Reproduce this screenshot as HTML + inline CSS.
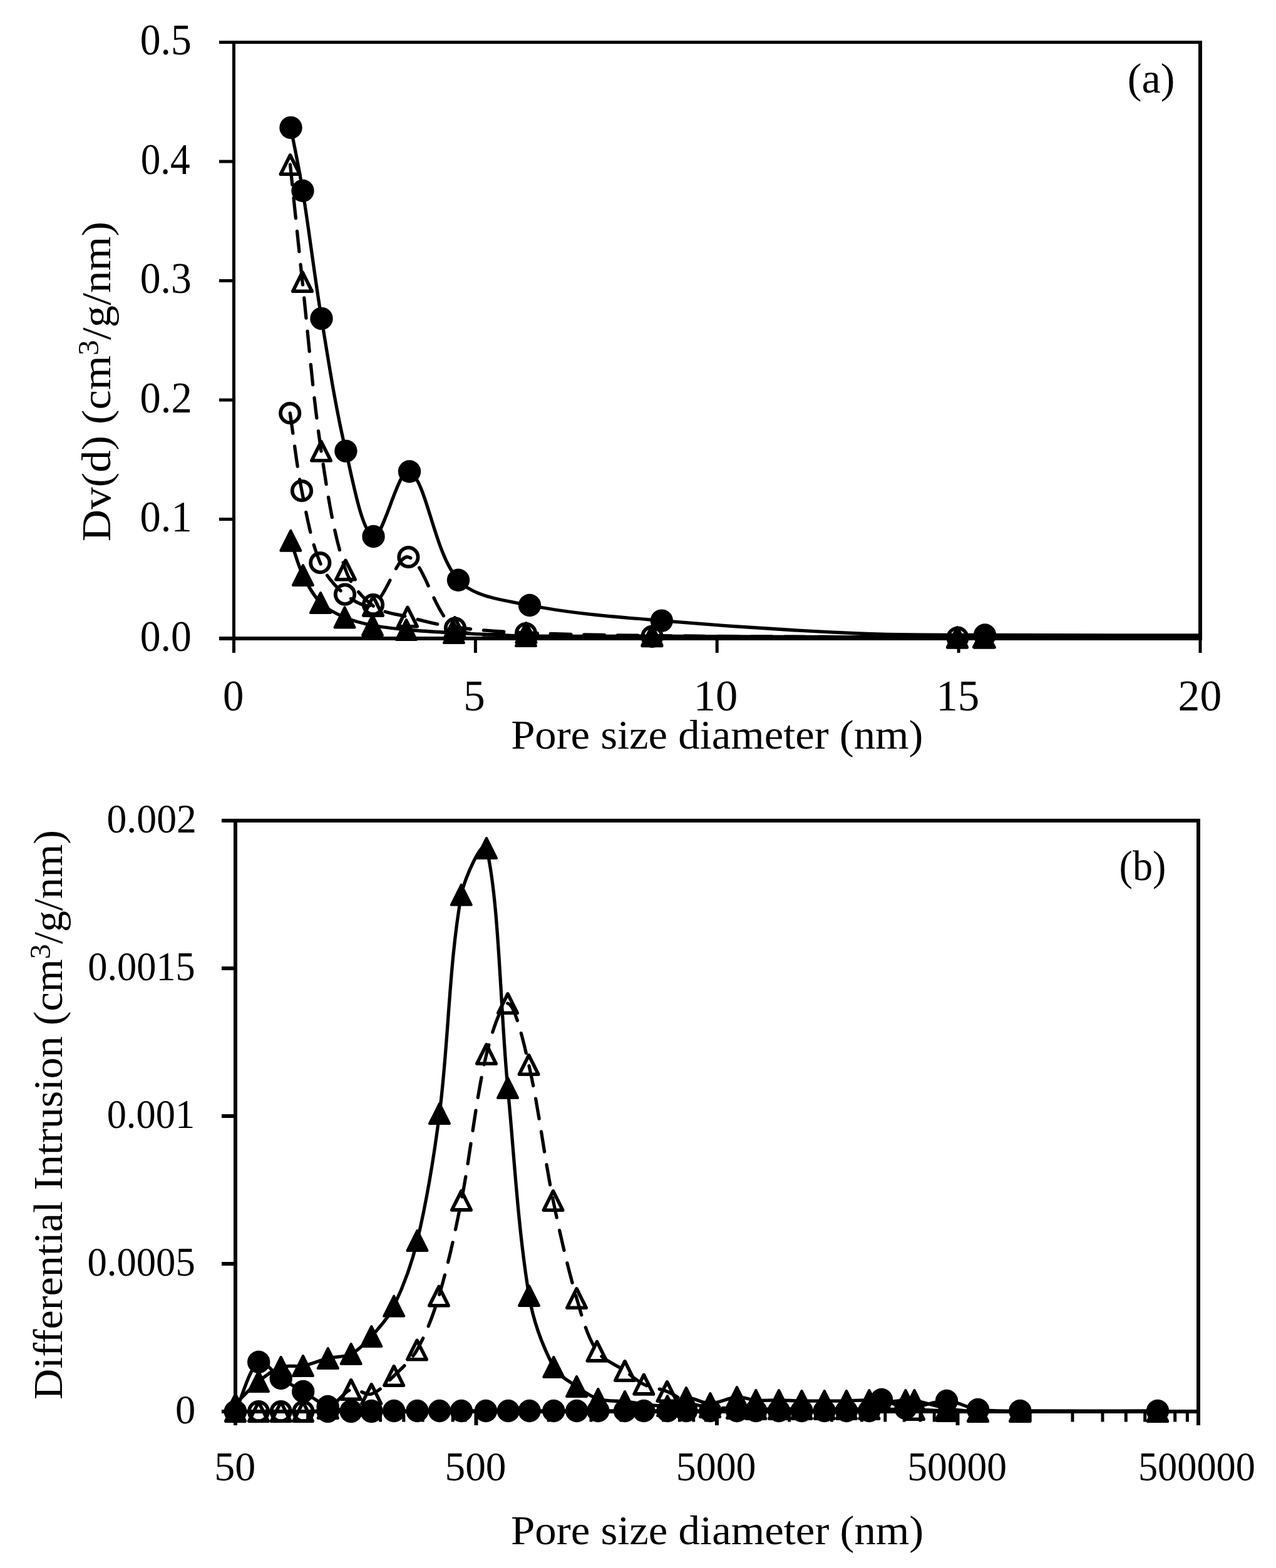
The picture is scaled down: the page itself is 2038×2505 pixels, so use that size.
<!DOCTYPE html>
<html><head><meta charset="utf-8"><title>Pore size distribution</title>
<style>html,body{margin:0;padding:0;background:#fff;}svg{display:block;}text{fill:#000;}</style></head><body>
<svg width="2038" height="2505" viewBox="0 0 2038 2505" font-family="'Liberation Serif', 'DejaVu Serif', serif">
<rect x="0" y="0" width="2038" height="2505" fill="#fff"/>
<defs><clipPath id="clipA"><rect x="373.5" y="37.5" width="1543.5" height="1012.5"/></clipPath>
<clipPath id="clipB"><rect x="376" y="1280" width="1538" height="1010"/></clipPath></defs>
<g stroke="#000" fill="none" stroke-linecap="butt">
<path d="M371,67.5 H1920" stroke-width="5"/>
<path d="M1917,65 V1023" stroke-width="6"/>
<path d="M373.5,65 V1043" stroke-width="5"/>
<path d="M350,1020 H373" stroke-width="5"/>
<path d="M350,829.5 H373" stroke-width="5"/>
<path d="M350,639 H373" stroke-width="5"/>
<path d="M350,448.5 H373" stroke-width="5"/>
<path d="M350,258 H373" stroke-width="5"/>
<path d="M350,67.5 H373" stroke-width="5"/>
<path d="M350,1020 H1920" stroke-width="6"/>
<path d="M759.4,1020 V1043" stroke-width="5"/>
<path d="M1145.2,1020 V1043" stroke-width="5"/>
<path d="M1531.1,1020 V1043" stroke-width="5"/>
<path d="M1917,1020 V1043" stroke-width="5"/>
</g>
<text x="264.7" y="1039.7" font-size="69" text-anchor="middle" textLength="82.1" lengthAdjust="spacingAndGlyphs" >0.0</text>
<text x="265.2" y="849.2" font-size="69" text-anchor="middle" textLength="83.2" lengthAdjust="spacingAndGlyphs" >0.1</text>
<text x="265.2" y="658.7" font-size="69" text-anchor="middle" textLength="83.2" lengthAdjust="spacingAndGlyphs" >0.2</text>
<text x="264.7" y="468.2" font-size="69" text-anchor="middle" textLength="82.1" lengthAdjust="spacingAndGlyphs" >0.3</text>
<text x="264.2" y="277.7" font-size="69" text-anchor="middle" textLength="79.1" lengthAdjust="spacingAndGlyphs" >0.4</text>
<text x="264.7" y="87.2" font-size="69" text-anchor="middle" textLength="82.1" lengthAdjust="spacingAndGlyphs" >0.5</text>
<text x="372.7" y="1134.5" font-size="69" text-anchor="middle" textLength="33.4" lengthAdjust="spacingAndGlyphs" >0</text>
<text x="757.5" y="1134.5" font-size="69" text-anchor="middle" textLength="34.5" lengthAdjust="spacingAndGlyphs" >5</text>
<text x="1143" y="1134.5" font-size="69" text-anchor="middle" textLength="70.6" lengthAdjust="spacingAndGlyphs" >10</text>
<text x="1529.7" y="1134.5" font-size="69" text-anchor="middle" textLength="69" lengthAdjust="spacingAndGlyphs" >15</text>
<text x="1916.4" y="1134.5" font-size="69" text-anchor="middle" textLength="69.6" lengthAdjust="spacingAndGlyphs" >20</text>
<text x="1145.3" y="1196" font-size="65" text-anchor="middle" textLength="658.3" lengthAdjust="spacingAndGlyphs" >Pore size diameter (nm)</text>
<text transform="translate(176,865) rotate(-90)" font-size="65" textLength="511" lengthAdjust="spacingAndGlyphs">Dv(d) (cm<tspan font-size="46" dy="-19">3</tspan><tspan dy="19">/g/nm)</tspan></text>
<text x="1838.6" y="148" font-size="67" text-anchor="middle" textLength="75.7" lengthAdjust="spacingAndGlyphs" >(a)</text>
<path d="M464.3,863.7 C470.8,882.1 475.5,901.5 483.9,919 C491.4,934.6 500.1,950.9 512,963 C522.3,973.4 536.8,980.5 550.5,986.4 C564.5,992.5 579.9,996 595,999 C612.8,1002.5 630.9,1004.3 649,1006 C674.3,1008.3 699.6,1009.7 725,1011 C763.3,1013 801.6,1015.4 840,1016 C907.1,1017.1 974.3,1015.9 1041.5,1016.2 C1204,1016.8 1366.5,1017.9 1529,1018.6 C1543.7,1018.7 1558.3,1018.6 1573,1018.6" fill="none" stroke="#000" stroke-width="5.3" stroke-linejoin="round" stroke-linecap="round" clip-path="url(#clipA)"/>
<path d="M464.3,847.7 L448.3,879.7 L480.3,879.7 Z" fill="#000" stroke="#000" stroke-width="4" stroke-linejoin="round"/>
<path d="M483.9,903 L467.9,935 L499.9,935 Z" fill="#000" stroke="#000" stroke-width="4" stroke-linejoin="round"/>
<path d="M512,947 L496,979 L528,979 Z" fill="#000" stroke="#000" stroke-width="4" stroke-linejoin="round"/>
<path d="M550.5,970.4 L534.5,1002.4 L566.5,1002.4 Z" fill="#000" stroke="#000" stroke-width="4" stroke-linejoin="round"/>
<path d="M595,983 L579,1015 L611,1015 Z" fill="#000" stroke="#000" stroke-width="4" stroke-linejoin="round"/>
<path d="M649,990 L633,1022 L665,1022 Z" fill="#000" stroke="#000" stroke-width="4" stroke-linejoin="round"/>
<path d="M725,995 L709,1027 L741,1027 Z" fill="#000" stroke="#000" stroke-width="4" stroke-linejoin="round"/>
<path d="M840,1000 L824,1032 L856,1032 Z" fill="#000" stroke="#000" stroke-width="4" stroke-linejoin="round"/>
<path d="M1041.5,1000.2 L1025.5,1032.2 L1057.5,1032.2 Z" fill="#000" stroke="#000" stroke-width="4" stroke-linejoin="round"/>
<path d="M1529,1002.6 L1513,1034.6 L1545,1034.6 Z" fill="#000" stroke="#000" stroke-width="4" stroke-linejoin="round"/>
<path d="M1573,1002.6 L1557,1034.6 L1589,1034.6 Z" fill="#000" stroke="#000" stroke-width="4" stroke-linejoin="round"/>
<path d="M463.2,660 C469.5,701.3 473.8,743.1 482,784 C489.8,822.7 496.4,863.2 511.3,899 C519.4,918.4 534.8,936.8 551,949.6 C563.1,959.1 584.6,972.7 596,966 C618.4,952.8 634.5,884.9 652.4,890 C678.1,897.4 692.9,981.3 727,1003.5 C755.4,1022 802.3,1010.4 840,1012 C907.1,1014.8 974.3,1016.1 1041.5,1016.8 C1204.2,1018.4 1366.8,1018.1 1529.5,1018.7" fill="none" stroke="#000" stroke-width="5.3" stroke-linejoin="round" stroke-dasharray="32.5 21" stroke-linecap="round" clip-path="url(#clipA)"/>
<circle cx="463.2" cy="660" r="15.2" fill="none" stroke="#000" stroke-width="5.8"/>
<circle cx="482" cy="784" r="15.2" fill="none" stroke="#000" stroke-width="5.8"/>
<circle cx="511.3" cy="899" r="15.2" fill="none" stroke="#000" stroke-width="5.8"/>
<circle cx="551" cy="949.6" r="15.2" fill="none" stroke="#000" stroke-width="5.8"/>
<circle cx="596" cy="966" r="15.2" fill="none" stroke="#000" stroke-width="5.8"/>
<circle cx="652.4" cy="890" r="15.2" fill="none" stroke="#000" stroke-width="5.8"/>
<circle cx="727" cy="1003.5" r="15.2" fill="none" stroke="#000" stroke-width="5.8"/>
<circle cx="840" cy="1012" r="15.2" fill="none" stroke="#000" stroke-width="5.8"/>
<circle cx="1041.5" cy="1016.8" r="15.2" fill="none" stroke="#000" stroke-width="5.8"/>
<circle cx="1529.5" cy="1018.7" r="15.2" fill="none" stroke="#000" stroke-width="5.8"/>
<path d="M463.5,263 C470,325.3 476.3,387.7 483,450 C492.8,540.2 499.6,630.9 513,720.6 C522.6,784.4 531.9,850.5 552,910.5 C559.5,932.9 577.6,954.1 596,968 C610.6,979.1 632.4,980.7 651,985.5 C675.9,992 701,998.6 726.5,1002 C764.2,1007.1 802.4,1009.4 840.5,1011 C907.4,1013.9 974.5,1014.8 1041.5,1015.5 C1204,1017.3 1366.5,1017.5 1529,1018.5 C1543,1018.6 1557,1018.6 1571,1018.6" fill="none" stroke="#000" stroke-width="5.3" stroke-linejoin="round" stroke-dasharray="32.5 21" stroke-linecap="round" clip-path="url(#clipA)"/>
<path d="M463.5,247.8 L448.3,278.2 L478.7,278.2 Z" fill="none" stroke="#000" stroke-width="5.6" stroke-linejoin="round"/>
<path d="M483,434.8 L467.8,465.2 L498.2,465.2 Z" fill="none" stroke="#000" stroke-width="5.6" stroke-linejoin="round"/>
<path d="M513,705.4 L497.8,735.8 L528.2,735.8 Z" fill="none" stroke="#000" stroke-width="5.6" stroke-linejoin="round"/>
<path d="M552,895.3 L536.8,925.7 L567.2,925.7 Z" fill="none" stroke="#000" stroke-width="5.6" stroke-linejoin="round"/>
<path d="M596,952.8 L580.8,983.2 L611.2,983.2 Z" fill="none" stroke="#000" stroke-width="5.6" stroke-linejoin="round"/>
<path d="M651,970.3 L635.8,1000.7 L666.2,1000.7 Z" fill="none" stroke="#000" stroke-width="5.6" stroke-linejoin="round"/>
<path d="M726.5,986.8 L711.3,1017.2 L741.7,1017.2 Z" fill="none" stroke="#000" stroke-width="5.6" stroke-linejoin="round"/>
<path d="M840.5,995.8 L825.3,1026.2 L855.7,1026.2 Z" fill="none" stroke="#000" stroke-width="5.6" stroke-linejoin="round"/>
<path d="M1041.5,1000.3 L1026.3,1030.7 L1056.7,1030.7 Z" fill="none" stroke="#000" stroke-width="5.6" stroke-linejoin="round"/>
<path d="M1529,1003.3 L1513.8,1033.7 L1544.2,1033.7 Z" fill="none" stroke="#000" stroke-width="5.6" stroke-linejoin="round"/>
<path d="M1571,1003.4 L1555.8,1033.8 L1586.2,1033.8 Z" fill="none" stroke="#000" stroke-width="5.6" stroke-linejoin="round"/>
<path d="M464.5,203.9 C470.8,237.5 478.1,271 483.5,304.8 C494.4,372.7 502.3,441.1 513.5,508.9 C525.2,579.7 535.8,651 552.4,720.6 C563.5,767 578,851 596.5,857 C611.8,861.9 636.7,744.4 654,753.3 C681.8,767.6 692.9,883.2 732,926.8 C756.9,954.5 806.7,959.2 846,967 C915,980.8 986.3,985.6 1056.8,991.6 C1161.3,1000.6 1266.2,1007.4 1371,1012 C1438.3,1015 1505.7,1014.2 1573,1014.5 C1715.3,1015.2 1857.7,1014.8 2000,1015" fill="none" stroke="#000" stroke-width="5.3" stroke-linejoin="round" stroke-linecap="round" clip-path="url(#clipA)"/>
<circle cx="464.5" cy="203.9" r="18.2" fill="#000"/>
<circle cx="483.5" cy="304.8" r="18.2" fill="#000"/>
<circle cx="513.5" cy="508.9" r="18.2" fill="#000"/>
<circle cx="552.4" cy="720.6" r="18.2" fill="#000"/>
<circle cx="596.5" cy="857" r="18.2" fill="#000"/>
<circle cx="654" cy="753.3" r="18.2" fill="#000"/>
<circle cx="732" cy="926.8" r="18.2" fill="#000"/>
<circle cx="846" cy="967" r="18.2" fill="#000"/>
<circle cx="1056.8" cy="991.6" r="18.2" fill="#000"/>
<circle cx="1573" cy="1014.5" r="18.2" fill="#000"/>
<g stroke="#000" fill="none" stroke-linecap="butt">
<path d="M373,1311 H1917" stroke-width="6"/>
<path d="M1914,1308 V2277" stroke-width="6"/>
<path d="M376,1308 V2277" stroke-width="6"/>
<path d="M354,2255 H376" stroke-width="6"/>
<path d="M354,2019 H376" stroke-width="6"/>
<path d="M354,1783 H376" stroke-width="6"/>
<path d="M354,1547 H376" stroke-width="6"/>
<path d="M354,1311 H376" stroke-width="6"/>
<path d="M354,2255 H1917" stroke-width="6"/>
<path d="M491.7,2255 V2271.5" stroke-width="5"/>
<path d="M559.5,2255 V2271.5" stroke-width="5"/>
<path d="M607.5,2255 V2271.5" stroke-width="5"/>
<path d="M644.8,2255 V2271.5" stroke-width="5"/>
<path d="M675.2,2255 V2271.5" stroke-width="5"/>
<path d="M700.9,2255 V2271.5" stroke-width="5"/>
<path d="M723.2,2255 V2271.5" stroke-width="5"/>
<path d="M742.9,2255 V2271.5" stroke-width="5"/>
<path d="M760.5,2255 V2277" stroke-width="6"/>
<path d="M876.2,2255 V2271.5" stroke-width="5"/>
<path d="M944,2255 V2271.5" stroke-width="5"/>
<path d="M992,2255 V2271.5" stroke-width="5"/>
<path d="M1029.3,2255 V2271.5" stroke-width="5"/>
<path d="M1059.7,2255 V2271.5" stroke-width="5"/>
<path d="M1085.4,2255 V2271.5" stroke-width="5"/>
<path d="M1107.7,2255 V2271.5" stroke-width="5"/>
<path d="M1127.4,2255 V2271.5" stroke-width="5"/>
<path d="M1145,2255 V2277" stroke-width="6"/>
<path d="M1260.7,2255 V2271.5" stroke-width="5"/>
<path d="M1328.5,2255 V2271.5" stroke-width="5"/>
<path d="M1376.5,2255 V2271.5" stroke-width="5"/>
<path d="M1413.8,2255 V2271.5" stroke-width="5"/>
<path d="M1444.2,2255 V2271.5" stroke-width="5"/>
<path d="M1469.9,2255 V2271.5" stroke-width="5"/>
<path d="M1492.2,2255 V2271.5" stroke-width="5"/>
<path d="M1511.9,2255 V2271.5" stroke-width="5"/>
<path d="M1529.5,2255 V2277" stroke-width="6"/>
<path d="M1645.2,2255 V2271.5" stroke-width="5"/>
<path d="M1713,2255 V2271.5" stroke-width="5"/>
<path d="M1761,2255 V2271.5" stroke-width="5"/>
<path d="M1798.3,2255 V2271.5" stroke-width="5"/>
<path d="M1828.7,2255 V2271.5" stroke-width="5"/>
<path d="M1854.4,2255 V2271.5" stroke-width="5"/>
<path d="M1876.7,2255 V2271.5" stroke-width="5"/>
<path d="M1896.4,2255 V2271.5" stroke-width="5"/>
</g>
<text x="296.2" y="2273.7" font-size="66" text-anchor="middle" textLength="32.3" lengthAdjust="spacingAndGlyphs" >0</text>
<text x="225.6" y="2037.7" font-size="66" text-anchor="middle" textLength="172.4" lengthAdjust="spacingAndGlyphs" >0.0005</text>
<text x="240.9" y="1801.7" font-size="66" text-anchor="middle" textLength="140.5" lengthAdjust="spacingAndGlyphs" >0.001</text>
<text x="226" y="1565.7" font-size="66" text-anchor="middle" textLength="171.5" lengthAdjust="spacingAndGlyphs" >0.0015</text>
<text x="242.2" y="1329.7" font-size="66" text-anchor="middle" textLength="143.4" lengthAdjust="spacingAndGlyphs" >0.002</text>
<text x="375.2" y="2364.5" font-size="66" text-anchor="middle" textLength="66" lengthAdjust="spacingAndGlyphs" >50</text>
<text x="759.5" y="2364.5" font-size="66" text-anchor="middle" textLength="98" lengthAdjust="spacingAndGlyphs" >500</text>
<text x="1143.7" y="2364.5" font-size="66" text-anchor="middle" textLength="127.7" lengthAdjust="spacingAndGlyphs" >5000</text>
<text x="1528.7" y="2364.5" font-size="66" text-anchor="middle" textLength="158.7" lengthAdjust="spacingAndGlyphs" >50000</text>
<text x="1911.4" y="2364.5" font-size="66" text-anchor="middle" textLength="186.9" lengthAdjust="spacingAndGlyphs" >500000</text>
<text x="1145.7" y="2466.5" font-size="65" text-anchor="middle" textLength="659.2" lengthAdjust="spacingAndGlyphs" >Pore size diameter (nm)</text>
<text transform="translate(99,2236) rotate(-90)" font-size="65" textLength="910" lengthAdjust="spacingAndGlyphs">Differential Intrusion (cm<tspan font-size="46" dy="-19">3</tspan><tspan dy="19">/g/nm)</tspan></text>
<text x="1825" y="1405.5" font-size="67" text-anchor="middle" textLength="74.8" lengthAdjust="spacingAndGlyphs" >(b)</text>
<path d="M376,2255 C388.3,2255 400.7,2255 413,2255 C424.9,2255 436.8,2255 448.7,2255 C460.6,2255 472.5,2255 484.4,2255 C497.5,2255 510.5,2255 523.6,2255 C536,2255 548.3,2255 560.7,2255 C571.6,2255 582.4,2255 593.3,2255" fill="none" stroke="#000" stroke-width="5.3" stroke-linejoin="round" stroke-dasharray="32.5 21" stroke-linecap="round" clip-path="url(#clipB)"/>
<circle cx="376" cy="2255" r="15.2" fill="none" stroke="#000" stroke-width="5.8"/>
<circle cx="413" cy="2255" r="15.2" fill="none" stroke="#000" stroke-width="5.8"/>
<circle cx="448.7" cy="2255" r="15.2" fill="none" stroke="#000" stroke-width="5.8"/>
<circle cx="484.4" cy="2255" r="15.2" fill="none" stroke="#000" stroke-width="5.8"/>
<circle cx="523.6" cy="2255" r="15.2" fill="none" stroke="#000" stroke-width="5.8"/>
<circle cx="560.7" cy="2255" r="15.2" fill="none" stroke="#000" stroke-width="5.8"/>
<circle cx="593.3" cy="2255" r="15.2" fill="none" stroke="#000" stroke-width="5.8"/>
<path d="M376,2255 C388.4,2228.7 397.1,2187.7 413.2,2176 C421.3,2170.1 436.5,2193.9 448.7,2202 C460.2,2209.6 472.4,2215.9 484.2,2223 C497.4,2230.9 509.6,2241.3 523.6,2247 C535.1,2251.7 548.2,2252.7 560.7,2254 C571.5,2255.1 582.4,2254 593.3,2254 C605.3,2254 617.2,2254 629.2,2254 C641.6,2254 654.1,2254 666.5,2254 C678.3,2254 690.2,2254 702,2254 C713.6,2254 725.3,2254 736.9,2254 C749.9,2254 763,2254 776,2254 C787.9,2254 799.9,2254 811.8,2254 C823.1,2254 834.3,2254 845.6,2254 C858.5,2254 871.4,2254 884.3,2254 C896.6,2254 908.9,2254 921.2,2254 C932.6,2254 943.9,2254 955.3,2254 C969.5,2254 983.8,2254 998,2254 C1008.1,2254 1018.2,2254 1028.3,2254 C1041,2254 1053.7,2254 1066.4,2254 C1076.3,2254 1086.1,2254 1096,2254 C1108.8,2254 1121.6,2254 1134.4,2254 C1148.6,2254 1162.8,2254 1177,2254 C1187.1,2254 1197.2,2254 1207.3,2254 C1219.5,2254 1231.8,2254 1244,2254 C1256.2,2254 1268.3,2254 1280.5,2254 C1292.6,2254 1304.6,2254 1316.7,2254 C1328.5,2254 1340.2,2254 1352,2254 C1364.1,2254 1377.5,2257.5 1388.3,2254 C1396.2,2251.5 1400.4,2236.5 1408,2236 C1419.7,2235.2 1433.2,2249.7 1446.4,2250 C1467.9,2250.4 1490.3,2237.6 1512,2238 C1528.9,2238.3 1545,2249.7 1562,2252 C1584.1,2255 1606.9,2253.8 1629.3,2254 C1702.5,2254.5 1775.8,2254 1849,2254" fill="none" stroke="#000" stroke-width="5.3" stroke-linejoin="round" stroke-linecap="round" clip-path="url(#clipB)"/>
<circle cx="376" cy="2255" r="18.2" fill="#000"/>
<circle cx="413.2" cy="2176" r="18.2" fill="#000"/>
<circle cx="448.7" cy="2202" r="18.2" fill="#000"/>
<circle cx="484.2" cy="2223" r="18.2" fill="#000"/>
<circle cx="523.6" cy="2247" r="18.2" fill="#000"/>
<circle cx="560.7" cy="2254" r="18.2" fill="#000"/>
<circle cx="593.3" cy="2254" r="18.2" fill="#000"/>
<circle cx="629.2" cy="2254" r="18.2" fill="#000"/>
<circle cx="666.5" cy="2254" r="18.2" fill="#000"/>
<circle cx="702" cy="2254" r="18.2" fill="#000"/>
<circle cx="736.9" cy="2254" r="18.2" fill="#000"/>
<circle cx="776" cy="2254" r="18.2" fill="#000"/>
<circle cx="811.8" cy="2254" r="18.2" fill="#000"/>
<circle cx="845.6" cy="2254" r="18.2" fill="#000"/>
<circle cx="884.3" cy="2254" r="18.2" fill="#000"/>
<circle cx="921.2" cy="2254" r="18.2" fill="#000"/>
<circle cx="955.3" cy="2254" r="18.2" fill="#000"/>
<circle cx="998" cy="2254" r="18.2" fill="#000"/>
<circle cx="1028.3" cy="2254" r="18.2" fill="#000"/>
<circle cx="1066.4" cy="2254" r="18.2" fill="#000"/>
<circle cx="1096" cy="2254" r="18.2" fill="#000"/>
<circle cx="1134.4" cy="2254" r="18.2" fill="#000"/>
<circle cx="1177" cy="2254" r="18.2" fill="#000"/>
<circle cx="1207.3" cy="2254" r="18.2" fill="#000"/>
<circle cx="1244" cy="2254" r="18.2" fill="#000"/>
<circle cx="1280.5" cy="2254" r="18.2" fill="#000"/>
<circle cx="1316.7" cy="2254" r="18.2" fill="#000"/>
<circle cx="1352" cy="2254" r="18.2" fill="#000"/>
<circle cx="1388.3" cy="2254" r="18.2" fill="#000"/>
<circle cx="1408" cy="2236" r="18.2" fill="#000"/>
<circle cx="1446.4" cy="2250" r="18.2" fill="#000"/>
<circle cx="1512" cy="2238" r="18.2" fill="#000"/>
<circle cx="1562" cy="2252" r="18.2" fill="#000"/>
<circle cx="1629.3" cy="2254" r="18.2" fill="#000"/>
<circle cx="1849" cy="2254" r="18.2" fill="#000"/>
<path d="M376,2255 C388.3,2255 400.7,2255 413,2255 C424.9,2255 436.8,2255 448.7,2255 C460.5,2255 472.3,2255.8 484,2255 C497.3,2254.1 512.1,2255.3 523.8,2250 C537.7,2243.7 547.1,2224.5 560.7,2220 C570.2,2216.8 583.7,2230.1 593.3,2227 C606.6,2222.7 618.2,2208.7 629.2,2198 C642.4,2185.2 657.1,2172.5 666,2156.6 C681,2130 692.2,2100.2 701,2070.6 C715.9,2020.6 726.9,1969.1 737,1917.7 C752.2,1840.2 759,1760.5 777,1684 C783.7,1655.6 800.7,1600.4 811,1603 C823.2,1606.1 836.9,1667.4 844.6,1701 C861,1772.4 868.8,1846 883.5,1918 C894.2,1970.4 906.1,2022.7 921,2074 C929.4,2103 937.5,2134.5 953.5,2158.7 C963.1,2173.2 983.2,2179.5 998,2190 C1008.1,2197.2 1017.3,2206.3 1028.3,2211.7 C1039.8,2217.3 1053.6,2218.1 1065.5,2223 C1076.6,2227.6 1086.3,2235.9 1097.5,2240 C1109.1,2244.2 1121.7,2246.5 1134,2248 C1148.2,2249.8 1162.7,2249.4 1177,2250 C1187.1,2250.4 1197.2,2250.8 1207.3,2251 C1219.5,2251.2 1231.8,2251 1244,2251 C1256.2,2251 1268.3,2251 1280.5,2251 C1292.6,2251 1304.6,2251 1316.7,2251 C1328.5,2251 1340.2,2251 1352,2251 C1364.1,2251 1376.2,2250.9 1388.3,2251 C1412.2,2251.2 1436.1,2251.4 1460,2252 C1477.3,2252.4 1494.7,2253.5 1512,2254 C1528.7,2254.5 1545.3,2254.9 1562,2255 C1584.3,2255.2 1606.7,2255 1629,2255 C1702.3,2255 1775.7,2255 1849,2255" fill="none" stroke="#000" stroke-width="5.3" stroke-linejoin="round" stroke-dasharray="32.5 21" stroke-linecap="round" clip-path="url(#clipB)"/>
<path d="M376,2239.8 L360.8,2270.2 L391.2,2270.2 Z" fill="none" stroke="#000" stroke-width="5.6" stroke-linejoin="round"/>
<path d="M413,2239.8 L397.8,2270.2 L428.2,2270.2 Z" fill="none" stroke="#000" stroke-width="5.6" stroke-linejoin="round"/>
<path d="M448.7,2239.8 L433.5,2270.2 L463.9,2270.2 Z" fill="none" stroke="#000" stroke-width="5.6" stroke-linejoin="round"/>
<path d="M484,2239.8 L468.8,2270.2 L499.2,2270.2 Z" fill="none" stroke="#000" stroke-width="5.6" stroke-linejoin="round"/>
<path d="M523.8,2234.8 L508.6,2265.2 L539,2265.2 Z" fill="none" stroke="#000" stroke-width="5.6" stroke-linejoin="round"/>
<path d="M560.7,2204.8 L545.5,2235.2 L575.9,2235.2 Z" fill="none" stroke="#000" stroke-width="5.6" stroke-linejoin="round"/>
<path d="M593.3,2211.8 L578.1,2242.2 L608.5,2242.2 Z" fill="none" stroke="#000" stroke-width="5.6" stroke-linejoin="round"/>
<path d="M629.2,2182.8 L614,2213.2 L644.4,2213.2 Z" fill="none" stroke="#000" stroke-width="5.6" stroke-linejoin="round"/>
<path d="M666,2141.4 L650.8,2171.8 L681.2,2171.8 Z" fill="none" stroke="#000" stroke-width="5.6" stroke-linejoin="round"/>
<path d="M701,2055.4 L685.8,2085.8 L716.2,2085.8 Z" fill="none" stroke="#000" stroke-width="5.6" stroke-linejoin="round"/>
<path d="M737,1902.5 L721.8,1932.9 L752.2,1932.9 Z" fill="none" stroke="#000" stroke-width="5.6" stroke-linejoin="round"/>
<path d="M777,1668.8 L761.8,1699.2 L792.2,1699.2 Z" fill="none" stroke="#000" stroke-width="5.6" stroke-linejoin="round"/>
<path d="M811,1587.8 L795.8,1618.2 L826.2,1618.2 Z" fill="none" stroke="#000" stroke-width="5.6" stroke-linejoin="round"/>
<path d="M844.6,1685.8 L829.4,1716.2 L859.8,1716.2 Z" fill="none" stroke="#000" stroke-width="5.6" stroke-linejoin="round"/>
<path d="M883.5,1902.8 L868.3,1933.2 L898.7,1933.2 Z" fill="none" stroke="#000" stroke-width="5.6" stroke-linejoin="round"/>
<path d="M921,2058.8 L905.8,2089.2 L936.2,2089.2 Z" fill="none" stroke="#000" stroke-width="5.6" stroke-linejoin="round"/>
<path d="M953.5,2143.5 L938.3,2173.9 L968.7,2173.9 Z" fill="none" stroke="#000" stroke-width="5.6" stroke-linejoin="round"/>
<path d="M998,2174.8 L982.8,2205.2 L1013.2,2205.2 Z" fill="none" stroke="#000" stroke-width="5.6" stroke-linejoin="round"/>
<path d="M1028.3,2196.5 L1013.1,2226.9 L1043.5,2226.9 Z" fill="none" stroke="#000" stroke-width="5.6" stroke-linejoin="round"/>
<path d="M1065.5,2207.8 L1050.3,2238.2 L1080.7,2238.2 Z" fill="none" stroke="#000" stroke-width="5.6" stroke-linejoin="round"/>
<path d="M1097.5,2224.8 L1082.3,2255.2 L1112.7,2255.2 Z" fill="none" stroke="#000" stroke-width="5.6" stroke-linejoin="round"/>
<path d="M1134,2232.8 L1118.8,2263.2 L1149.2,2263.2 Z" fill="none" stroke="#000" stroke-width="5.6" stroke-linejoin="round"/>
<path d="M1177,2234.8 L1161.8,2265.2 L1192.2,2265.2 Z" fill="none" stroke="#000" stroke-width="5.6" stroke-linejoin="round"/>
<path d="M1207.3,2235.8 L1192.1,2266.2 L1222.5,2266.2 Z" fill="none" stroke="#000" stroke-width="5.6" stroke-linejoin="round"/>
<path d="M1244,2235.8 L1228.8,2266.2 L1259.2,2266.2 Z" fill="none" stroke="#000" stroke-width="5.6" stroke-linejoin="round"/>
<path d="M1280.5,2235.8 L1265.3,2266.2 L1295.7,2266.2 Z" fill="none" stroke="#000" stroke-width="5.6" stroke-linejoin="round"/>
<path d="M1316.7,2235.8 L1301.5,2266.2 L1331.9,2266.2 Z" fill="none" stroke="#000" stroke-width="5.6" stroke-linejoin="round"/>
<path d="M1352,2235.8 L1336.8,2266.2 L1367.2,2266.2 Z" fill="none" stroke="#000" stroke-width="5.6" stroke-linejoin="round"/>
<path d="M1388.3,2235.8 L1373.1,2266.2 L1403.5,2266.2 Z" fill="none" stroke="#000" stroke-width="5.6" stroke-linejoin="round"/>
<path d="M1460,2236.8 L1444.8,2267.2 L1475.2,2267.2 Z" fill="none" stroke="#000" stroke-width="5.6" stroke-linejoin="round"/>
<path d="M1512,2238.8 L1496.8,2269.2 L1527.2,2269.2 Z" fill="none" stroke="#000" stroke-width="5.6" stroke-linejoin="round"/>
<path d="M1562,2239.8 L1546.8,2270.2 L1577.2,2270.2 Z" fill="none" stroke="#000" stroke-width="5.6" stroke-linejoin="round"/>
<path d="M1629,2239.8 L1613.8,2270.2 L1644.2,2270.2 Z" fill="none" stroke="#000" stroke-width="5.6" stroke-linejoin="round"/>
<path d="M1849,2239.8 L1833.8,2270.2 L1864.2,2270.2 Z" fill="none" stroke="#000" stroke-width="5.6" stroke-linejoin="round"/>
<path d="M376,2243 C388.3,2231 399.7,2217.8 413,2207 C423.9,2198.1 435.8,2188.5 448.7,2184 C459.5,2180.2 472.5,2184.1 484,2182 C497.5,2179.5 510.4,2173.3 523.8,2170 C535.9,2167 549.9,2168.4 560.7,2163 C573.1,2156.8 583.8,2145.6 593.3,2135 C606.6,2120.1 620.6,2104.5 629.2,2086.6 C645,2053.5 658,2017.9 666.5,1982 C682.3,1915.4 693.3,1847.1 702,1779 C716.8,1663 716.7,1543.5 736.8,1429.6 C741.7,1402.1 772.5,1336.4 777,1355 C797.3,1439.2 798.9,1610.4 811,1738 C821.5,1848.7 827.1,1960.8 845,2070 C851.5,2109.5 866.2,2149.4 884.3,2184 C891.5,2197.8 908,2205.7 921,2215 C931.7,2222.7 943,2231.2 955.3,2235 C968.6,2239.2 983.8,2237.6 998,2239 C1020.7,2241.3 1043.9,2247.4 1066,2246 C1076.6,2245.4 1085.7,2233.6 1096,2233 C1108.5,2232.3 1121.6,2242.2 1134.4,2242 C1148.6,2241.8 1162.7,2233 1177,2232 C1187,2231.3 1197.1,2236.2 1207.3,2237 C1219.5,2237.9 1231.8,2236.8 1244,2237 C1256.2,2237.2 1268.3,2237.8 1280.5,2238 C1292.6,2238.2 1304.6,2238 1316.7,2238 C1328.5,2238 1340.2,2238.2 1352,2238 C1364.1,2237.8 1376.2,2236.6 1388.3,2237 C1394.9,2237.2 1401.4,2240 1408,2240 C1420.8,2240 1433.6,2237.7 1446.4,2237 C1451.1,2236.7 1455.9,2236.1 1460.5,2237 C1477.8,2240.4 1494.6,2246.9 1512,2250 C1528.4,2252.9 1545.3,2254.3 1562,2255 C1584.4,2256 1606.9,2255 1629.3,2255 C1702.5,2255 1775.8,2255 1849,2255" fill="none" stroke="#000" stroke-width="5.3" stroke-linejoin="round" stroke-linecap="round" clip-path="url(#clipB)"/>
<path d="M376,2227 L360,2259 L392,2259 Z" fill="#000" stroke="#000" stroke-width="4" stroke-linejoin="round"/>
<path d="M413,2191 L397,2223 L429,2223 Z" fill="#000" stroke="#000" stroke-width="4" stroke-linejoin="round"/>
<path d="M448.7,2168 L432.7,2200 L464.7,2200 Z" fill="#000" stroke="#000" stroke-width="4" stroke-linejoin="round"/>
<path d="M484,2166 L468,2198 L500,2198 Z" fill="#000" stroke="#000" stroke-width="4" stroke-linejoin="round"/>
<path d="M523.8,2154 L507.8,2186 L539.8,2186 Z" fill="#000" stroke="#000" stroke-width="4" stroke-linejoin="round"/>
<path d="M560.7,2147 L544.7,2179 L576.7,2179 Z" fill="#000" stroke="#000" stroke-width="4" stroke-linejoin="round"/>
<path d="M593.3,2119 L577.3,2151 L609.3,2151 Z" fill="#000" stroke="#000" stroke-width="4" stroke-linejoin="round"/>
<path d="M629.2,2070.6 L613.2,2102.6 L645.2,2102.6 Z" fill="#000" stroke="#000" stroke-width="4" stroke-linejoin="round"/>
<path d="M666.5,1966 L650.5,1998 L682.5,1998 Z" fill="#000" stroke="#000" stroke-width="4" stroke-linejoin="round"/>
<path d="M702,1763 L686,1795 L718,1795 Z" fill="#000" stroke="#000" stroke-width="4" stroke-linejoin="round"/>
<path d="M736.8,1413.6 L720.8,1445.6 L752.8,1445.6 Z" fill="#000" stroke="#000" stroke-width="4" stroke-linejoin="round"/>
<path d="M777,1339 L761,1371 L793,1371 Z" fill="#000" stroke="#000" stroke-width="4" stroke-linejoin="round"/>
<path d="M811,1722 L795,1754 L827,1754 Z" fill="#000" stroke="#000" stroke-width="4" stroke-linejoin="round"/>
<path d="M845,2054 L829,2086 L861,2086 Z" fill="#000" stroke="#000" stroke-width="4" stroke-linejoin="round"/>
<path d="M884.3,2168 L868.3,2200 L900.3,2200 Z" fill="#000" stroke="#000" stroke-width="4" stroke-linejoin="round"/>
<path d="M921,2199 L905,2231 L937,2231 Z" fill="#000" stroke="#000" stroke-width="4" stroke-linejoin="round"/>
<path d="M955.3,2219 L939.3,2251 L971.3,2251 Z" fill="#000" stroke="#000" stroke-width="4" stroke-linejoin="round"/>
<path d="M998,2223 L982,2255 L1014,2255 Z" fill="#000" stroke="#000" stroke-width="4" stroke-linejoin="round"/>
<path d="M1066,2230 L1050,2262 L1082,2262 Z" fill="#000" stroke="#000" stroke-width="4" stroke-linejoin="round"/>
<path d="M1096,2217 L1080,2249 L1112,2249 Z" fill="#000" stroke="#000" stroke-width="4" stroke-linejoin="round"/>
<path d="M1134.4,2226 L1118.4,2258 L1150.4,2258 Z" fill="#000" stroke="#000" stroke-width="4" stroke-linejoin="round"/>
<path d="M1177,2216 L1161,2248 L1193,2248 Z" fill="#000" stroke="#000" stroke-width="4" stroke-linejoin="round"/>
<path d="M1207.3,2221 L1191.3,2253 L1223.3,2253 Z" fill="#000" stroke="#000" stroke-width="4" stroke-linejoin="round"/>
<path d="M1244,2221 L1228,2253 L1260,2253 Z" fill="#000" stroke="#000" stroke-width="4" stroke-linejoin="round"/>
<path d="M1280.5,2222 L1264.5,2254 L1296.5,2254 Z" fill="#000" stroke="#000" stroke-width="4" stroke-linejoin="round"/>
<path d="M1316.7,2222 L1300.7,2254 L1332.7,2254 Z" fill="#000" stroke="#000" stroke-width="4" stroke-linejoin="round"/>
<path d="M1352,2222 L1336,2254 L1368,2254 Z" fill="#000" stroke="#000" stroke-width="4" stroke-linejoin="round"/>
<path d="M1388.3,2221 L1372.3,2253 L1404.3,2253 Z" fill="#000" stroke="#000" stroke-width="4" stroke-linejoin="round"/>
<path d="M1408,2224 L1392,2256 L1424,2256 Z" fill="#000" stroke="#000" stroke-width="4" stroke-linejoin="round"/>
<path d="M1446.4,2221 L1430.4,2253 L1462.4,2253 Z" fill="#000" stroke="#000" stroke-width="4" stroke-linejoin="round"/>
<path d="M1460.5,2221 L1444.5,2253 L1476.5,2253 Z" fill="#000" stroke="#000" stroke-width="4" stroke-linejoin="round"/>
<path d="M1512,2234 L1496,2266 L1528,2266 Z" fill="#000" stroke="#000" stroke-width="4" stroke-linejoin="round"/>
<path d="M1562,2239 L1546,2271 L1578,2271 Z" fill="#000" stroke="#000" stroke-width="4" stroke-linejoin="round"/>
<path d="M1629.3,2239 L1613.3,2271 L1645.3,2271 Z" fill="#000" stroke="#000" stroke-width="4" stroke-linejoin="round"/>
<path d="M1849,2239 L1833,2271 L1865,2271 Z" fill="#000" stroke="#000" stroke-width="4" stroke-linejoin="round"/>
</svg></body></html>
